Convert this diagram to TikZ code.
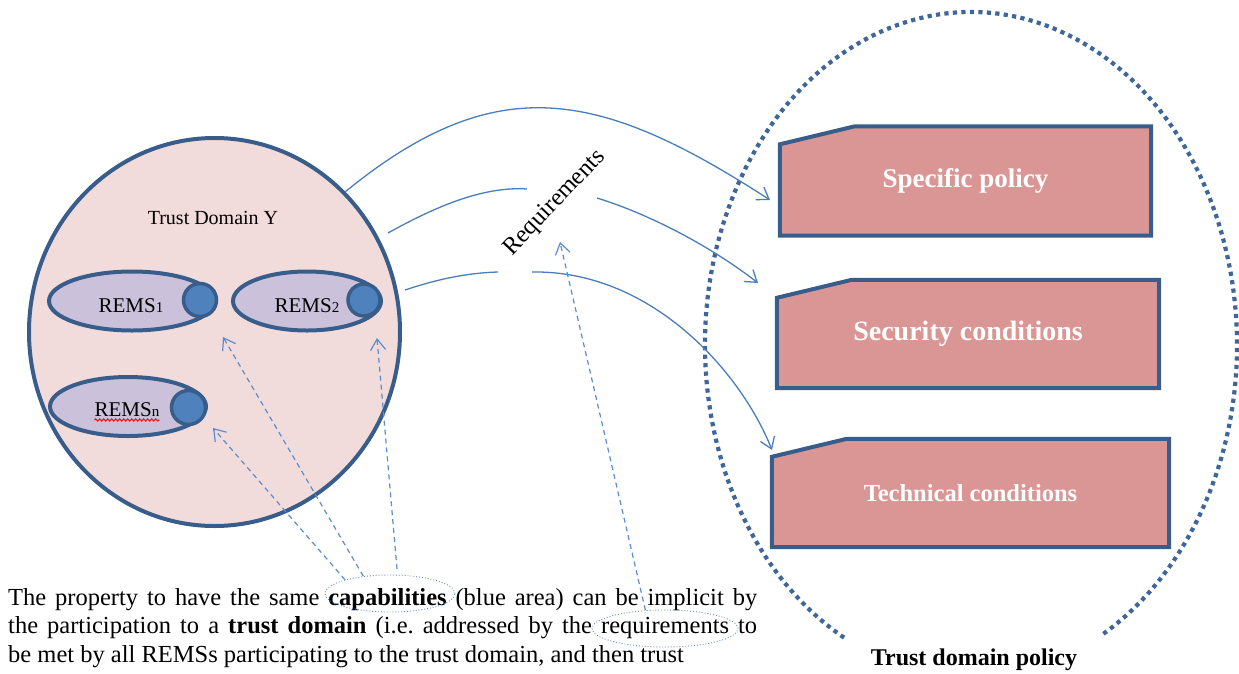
\documentclass[tikz,border=0pt]{standalone}
\usepackage{fontspec}
\setmainfont{Liberation Serif}
\usetikzlibrary{shapes.geometric, arrows.meta, backgrounds, decorations.pathmorphing}

\definecolor{edgeblue}{HTML}{385D8A}
\definecolor{pinkfill}{HTML}{F2DCDB}
\definecolor{lavfill}{HTML}{CCC1DA}
\definecolor{knobfill}{HTML}{4F81BD}
\definecolor{boxfill}{HTML}{D99694}
\definecolor{arrowblue}{HTML}{4A7EBB}
\definecolor{dashblue}{HTML}{5B8CCB}
\definecolor{dotline}{HTML}{3F6698}

\newcommand{\fsz}[1]{\fontsize{#1}{#1}\selectfont}
\frenchspacing

\begin{document}
\begin{tikzpicture}[x=1pt,y=-1pt,
  tdzone/.style={ellipse, draw=edgeblue, fill=pinkfill, line width=4pt, inner sep=0pt},
  rems/.style={ellipse, draw=edgeblue, fill=lavfill, line width=4pt, inner sep=0pt, minimum height=59pt},
  knob/.style={circle, draw=edgeblue, fill=knobfill, line width=3.5pt, inner sep=0pt},
  lbl/.style={inner sep=0pt, anchor=base, font=\fsz{21}},
  boxtxt/.style={inner sep=0pt, text=white},
  boxline/.style={draw=edgeblue, fill=boxfill, line width=4pt, line join=miter},
  flow/.style={draw=arrowblue, line width=1.3pt, -{Straight Barb[length=11pt,width=15pt]}},
  flowseg/.style={draw=arrowblue, line width=1.3pt},
  hint/.style={draw=dashblue, line width=1.2pt, dash pattern=on 5pt off 4pt, -{Straight Barb[length=11pt,width=15pt]}},
  wordring/.style={ellipse, draw=dashblue, line width=0.9pt, dotted, inner sep=0pt},
  bodytxt/.style={anchor=base west, inner sep=0pt, font=\fsz{24.5}},
  dotring/.style={draw=dotline, line width=4.2pt, dash pattern=on 4.2pt off 4.3pt},
]
\useasboundingbox (0,0) rectangle (1239,673);

% ---- Trust domain Y ----
\node[tdzone, minimum width=371pt, minimum height=388pt] (TD) at (214.5,332) {};
\node[lbl, font=\fsz{20}] (tdy) at (213,224) {Trust Domain Y};

\node[rems, minimum width=166pt] (R1) at (132,301) {};
\node[knob, minimum size=33pt] (K1) at (200,300) {};
\node[lbl] (R1t) at (131,312) {REMS{\fsz{15}1}};

\node[rems, minimum width=148pt] (R2) at (307,301) {};
\node[knob, minimum size=32pt] (K2) at (364,300) {};
\node[lbl] (R2t) at (307,312) {REMS{\fsz{15}2}};

\node[rems, minimum width=156pt] (Rn) at (128,406.5) {};
\node[knob, minimum size=34pt] (Kn) at (188.5,407.5) {};
\node[lbl] (Rnt) at (127,416) {REMS{\fsz{15}n}};
\draw[red, line width=0.8pt, decorate, decoration={snake, amplitude=1.2pt, segment length=4pt}] ([shift={(0,4)}]Rnt.base west) -- ([shift={(0,4)}]Rnt.base east);

% ---- Policy boxes ----
\node[boxtxt, font=\bfseries\fsz{27}, minimum width=371pt, minimum height=109pt] (sp) at (965.5,181) {Specific policy};
\node[boxtxt, font=\bfseries\fsz{28}, minimum width=382pt, minimum height=108pt] (sc) at (968,334) {Security conditions};
\node[boxtxt, font=\bfseries\fsz{24.5}, minimum width=397pt, minimum height=108pt] (tc) at (970.5,493) {Technical conditions};
\begin{scope}[on background layer]
  \foreach \b in {sp,sc,tc}{
    \path[boxline] ([shift={(0,18)}]\b.north west) -- ([shift={(75,0)}]\b.north west) -- (\b.north east) -- (\b.south east) -- (\b.south west) -- cycle;
  }
\end{scope}

% ---- dotted trust domain policy ring ----
\draw[dotring] (971,345) ++(118.5:266 and 333) arc[start angle=118.5, end angle=420.8, x radius=266, y radius=333];
\node[anchor=base, inner sep=0pt, font=\bfseries\fsz{24}] (tdp) at (974,665) {Trust domain policy};

% ---- Requirements label and arrows ----
\node[rotate=46.5, font=\fsz{24.5}, inner sep=0pt] (rq) at (555,203) {Requirements};

\coordinate (tA) at (770,200);
\coordinate (b1s) at (388,233);
\coordinate (b1e) at (527,189);
\coordinate (b2s) at (597,198);
\coordinate (tB) at (758,283);
\coordinate (c1s) at (405,290);
\coordinate (c1e) at (498,272);
\coordinate (c2s) at (532,272);
\coordinate (tC) at (772,450);

\draw[flow] (TD.47) .. controls (497,68) and (600,90) .. (tA);
\draw[flowseg] (b1s) .. controls (433,208) and (482,186) .. (b1e);
\draw[flow] (b2s) .. controls (652,215) and (713,248) .. (tB);
\draw[flowseg] (c1s) .. controls (435,280) and (465,273) .. (c1e);
\draw[flow] (c2s) .. controls (650,270) and (740,370) .. (tC);

% ---- bottom text ----
\node[bodytxt] (l1) at (8,605) {\makebox[749pt][s]{The property to have the same \textbf{capabilities} (blue area) can be implicit by}};
\node[bodytxt] (l2) at (8,633) {\makebox[749pt][s]{the participation to a \textbf{trust domain} (i.e. addressed by the requirements to}};
\node[bodytxt] (l3) at (8,662) {be met by all REMSs participating to the trust domain, and then trust};

\node[wordring, minimum width=130pt, minimum height=37pt] (cap) at (390,593.5) {};
\node[wordring, minimum width=146pt, minimum height=37pt] (req) at (665,628.5) {};

% ---- dashed hints ----
\coordinate (tn) at (213,428);
\coordinate (t1) at (223,337);
\coordinate (t2) at (377,338);
\coordinate (tr) at (560,242);
\coordinate (d3s) at (397,569);
\draw[hint] (cap.163) -- (tn);
\draw[hint] (cap.147) -- (t1);
\draw[hint] (d3s) -- (t2);
\draw[hint] (req.137) -- (tr);
\end{tikzpicture}
\end{document}
